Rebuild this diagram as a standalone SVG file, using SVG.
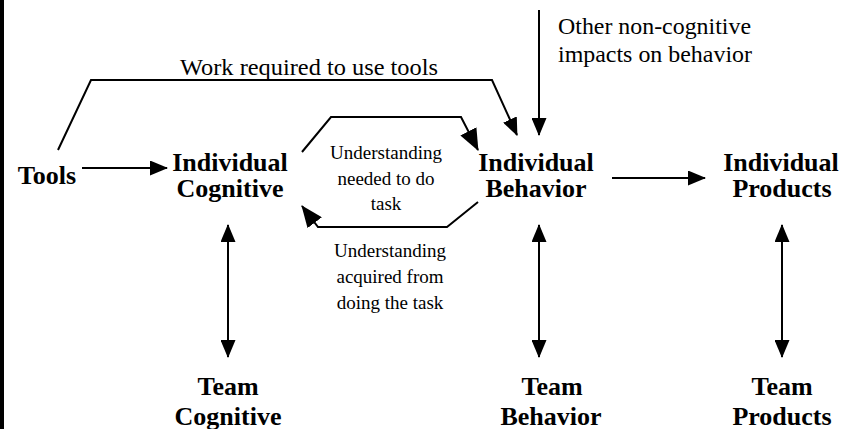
<svg xmlns="http://www.w3.org/2000/svg" width="851" height="429" viewBox="0 0 851 429">
<style>
  .b { font-family: "Liberation Serif", "Times New Roman", serif; font-weight: bold; font-size: 26px; fill: #000; text-anchor: middle; }
  .r { font-family: "Liberation Serif", "Times New Roman", serif; font-size: 23px; fill: #000; }
  .s { font-family: "Liberation Serif", "Times New Roman", serif; font-size: 19px; fill: #000; text-anchor: middle; }
  .ln { fill: none; stroke: #000; stroke-width: 2; stroke-linejoin: miter; }
</style>
<defs>
  <marker id="ah" markerUnits="userSpaceOnUse" markerWidth="18" markerHeight="15" refX="17" refY="7.5" orient="auto-start-reverse" viewBox="0 0 18 15">
    <path d="M0,0 L18,7.5 L0,15 z" fill="#000"/>
  </marker>
  <marker id="ahL" markerUnits="userSpaceOnUse" markerWidth="22" markerHeight="18" refX="21" refY="9" orient="auto" viewBox="0 0 22 18">
    <path d="M0,0 L22,9 L0,18 z" fill="#000"/>
  </marker>
</defs>
<rect x="0" y="0" width="4" height="429" fill="#000"/>
<g id="connectors">
  <line class="ln" x1="82" y1="168" x2="167" y2="168" marker-end="url(#ah)"/>
  <path class="ln" d="M58,150 L91,80 L492,80 L517,135" marker-end="url(#ah)"/>
  <line class="ln" x1="539" y1="10" x2="539" y2="135" marker-end="url(#ah)"/>
  <path class="ln" d="M302,152 L331,117 L461,117 L478,150" marker-end="url(#ahL)"/>
  <path class="ln" d="M478,202 L447,227 L318,227 L302,206" marker-end="url(#ahL)"/>
  <line class="ln" x1="612" y1="178" x2="705" y2="178" marker-end="url(#ah)"/>
  <line class="ln" x1="228" y1="225" x2="228" y2="357" marker-start="url(#ah)" marker-end="url(#ah)"/>
  <line class="ln" x1="539" y1="225" x2="539" y2="357" marker-start="url(#ah)" marker-end="url(#ah)"/>
  <line class="ln" x1="782" y1="225" x2="782" y2="357" marker-start="url(#ah)" marker-end="url(#ah)"/>
  <text class="r" x="180" y="75" textLength="258" lengthAdjust="spacingAndGlyphs">Work required to use tools</text>
  <text class="r" x="558" y="34" textLength="193" lengthAdjust="spacingAndGlyphs">Other non-cognitive</text>
  <text class="r" x="558" y="62" textLength="194" lengthAdjust="spacingAndGlyphs">impacts on behavior</text>
  <text class="s" x="386" y="159">Understanding</text>
  <text class="s" x="386" y="185">needed to do</text>
  <text class="s" x="386" y="210">task</text>
  <text class="s" x="390" y="257">Understanding</text>
  <text class="s" x="390" y="283">acquired from</text>
  <text class="s" x="390" y="309">doing the task</text>
</g>
<g id="tools"><text class="b" x="47" y="184">Tools</text></g>
<g id="individual-cognitive"><text class="b" x="230" y="171">Individual</text><text class="b" x="230" y="197">Cognitive</text></g>
<g id="individual-behavior"><text class="b" x="536" y="171">Individual</text><text class="b" x="536" y="197">Behavior</text></g>
<g id="individual-products"><text class="b" x="781" y="171">Individual</text><text class="b" x="782" y="197">Products</text></g>
<g id="team-cognitive"><text class="b" x="228" y="395">Team</text><text class="b" x="228" y="425">Cognitive</text></g>
<g id="team-behavior"><text class="b" x="552" y="395">Team</text><text class="b" x="551" y="425">Behavior</text></g>
<g id="team-products"><text class="b" x="782" y="395">Team</text><text class="b" x="782" y="425">Products</text></g>
</svg>
